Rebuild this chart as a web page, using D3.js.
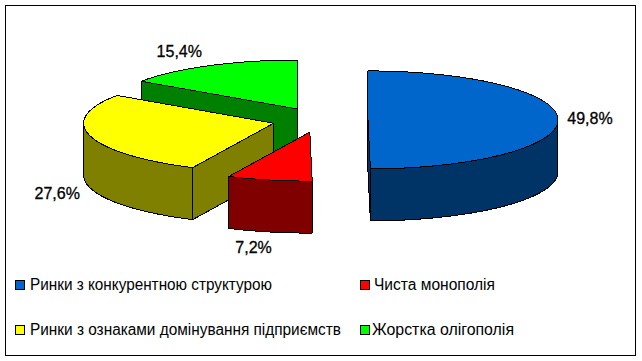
<!DOCTYPE html>
<html>
<head>
<meta charset="utf-8">
<script src="https://cdn.jsdelivr.net/npm/d3@7"></script>
<style>
  html, body { margin: 0; padding: 0; background: #fff; }
  svg { display: block; }
  text { font-family: "Liberation Sans", Arial, sans-serif; fill: #000; }
</style>
</head>
<body>
<div id="chart-container"></div>
<script>
// Exploded 3D pie, slices start at 12 o'clock and go clockwise

var categories = ['Ринки з конкурентною структурою', 'Чиста монополія', 'Ринки з ознаками домінування підприємств', 'Жорстка олігополія'];
var values = [49.8, 7.2, 27.6, 15.4];
var labels = ['49,8%', '7,2%', '27,6%', '15,4%'];
var topColors = ['#0066cc', '#ff0000', '#ffff00', '#00ff00'];
var sideColors = ['#003366', '#800000', '#808000', '#008000'];

var width = 642, height = 361;
var pieGeom = {cx: 320, cy: 120, rx: 190, ry: 49, depth: 52, explode: 48};

// label offset from the slice's rim point, in pixels
var labelNudge = [[32, 0], [-16, 69], [-33, 59], [-30, -13]];
// legend cells: x of swatch, x of text, y of the row middle, text width
var legendCells = [[15, 30, 286, 242], [360, 374, 286, 121], [15, 30, 331, 311], [360, 372, 331, 142]];

var svg = d3.select('#chart-container')
    .append('svg')
    .attr('width', width)
    .attr('height', height);

svg.append('rect')
    .attr('x', 5.5).attr('y', 5.5)
    .attr('width', 630).attr('height', 350)
    .attr('fill', '#fff')
    .attr('stroke', '#000');

var slices = d3.pie().sort(null)(values);

// project a pie angle (+ radius share) to the screen, around the slice's own centre
function project(d, angle, r, drop) {
    let mid = (d.startAngle + d.endAngle) / 2;
    let ox = pieGeom.explode * Math.sin(mid);
    let oy = pieGeom.explode * Math.cos(mid);
    return [
        pieGeom.cx + ox + r * pieGeom.rx * Math.sin(angle),
        pieGeom.cy - (oy * pieGeom.ry / pieGeom.rx + r * pieGeom.ry * Math.cos(angle)) + drop
    ];
}

function rim(d, a0, a1, drop) {
    let n = Math.max(2, Math.ceil((a1 - a0) * 40));
    return d3.range(n + 1).map(i => project(d, a0 + (a1 - a0) * i / n, 1, drop));
}

var line = d3.line();
var pieG = svg.append('g').attr('stroke', '#000').attr('stroke-width', 1).attr('stroke-linejoin', 'round').attr('shape-rendering', 'crispEdges');

// painter's order: back slices first
[3, 2, 1, 0].forEach(i => {
    let d = slices[i];
    let g = pieG.append('g');
    let centre = project(d, 0, 0, 0), centreLow = project(d, 0, 0, pieGeom.depth);

    // cut faces, the one further back goes first
    [d.startAngle, d.endAngle]
        .sort((a, b) => project(d, a, 1, 0)[1] - project(d, b, 1, 0)[1])
        .forEach(a => {
            let p = project(d, a, 1, 0), pLow = project(d, a, 1, pieGeom.depth);
            g.append('path')
                .attr('d', line([centre, p, pLow, centreLow]) + 'Z')
                .attr('fill', sideColors[i]);
        });

    // outer wall, only the part that faces the viewer
    let a0 = Math.max(d.startAngle, Math.PI / 2), a1 = Math.min(d.endAngle, Math.PI * 1.5);
    if (a1 > a0) {
        let upper = rim(d, a0, a1, 0), lower = rim(d, a0, a1, pieGeom.depth).reverse();
        g.append('path')
            .attr('d', line(upper.concat(lower)) + 'Z')
            .attr('fill', sideColors[i]);
    }

    // top
    g.append('path')
        .attr('d', line([centre].concat(rim(d, d.startAngle, d.endAngle, 0))) + 'Z')
        .attr('fill', topColors[i]);
});

// value labels
svg.append('g')
    .selectAll('text')
    .data(slices)
    .join('text')
    .attr('text-anchor', 'middle')
    .attr('dominant-baseline', 'middle')
    .attr('font-size', 16)
    .attr('stroke', '#000')
    .attr('stroke-width', 0.3)
    .attr('x', (d, i) => project(d, (d.startAngle + d.endAngle) / 2, 1, 0)[0] + labelNudge[i][0])
    .attr('y', (d, i) => project(d, (d.startAngle + d.endAngle) / 2, 1, 0)[1] + labelNudge[i][1])
    .text((d, i) => labels[i]);

// legend
var legend = svg.append('g')
    .selectAll('g')
    .data(categories)
    .join('g');

legend.append('rect')
    .attr('x', (d, i) => legendCells[i][0] + 0.5)
    .attr('y', (d, i) => legendCells[i][2] - 5.5)
    .attr('width', 9).attr('height', 9)
    .attr('fill', (d, i) => topColors[i])
    .attr('stroke', '#000');

legend.append('text')
    .attr('x', (d, i) => legendCells[i][1])
    .attr('y', (d, i) => legendCells[i][2])
    .attr('dominant-baseline', 'middle')
    .attr('font-size', 16)
    .attr('textLength', (d, i) => legendCells[i][3])
    .attr('lengthAdjust', 'spacingAndGlyphs')
    .text(d => d);
</script>
</body>
</html>
